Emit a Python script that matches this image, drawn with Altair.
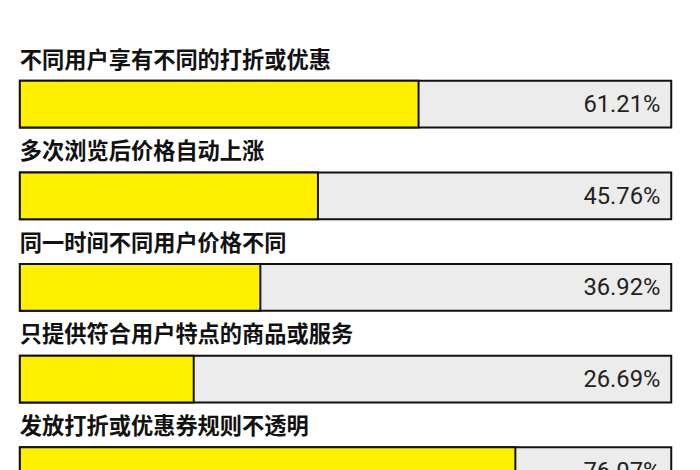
import altair as alt
import pandas as pd

labels = [
    "不同用户享有不同的打折或优惠",
    "多次浏览后价格自动上涨",
    "同一时间不同用户价格不同",
    "只提供符合用户特点的商品或服务",
    "发放打折或优惠券规则不透明",
]
values = [61.21, 45.76, 36.92, 26.69, 76.07]

df = pd.DataFrame({"label": labels, "value": values})

yenc = alt.Y(
    "label:N", sort=None, axis=None,
    scale=alt.Scale(range=[71, 489], paddingInner=0.49, paddingOuter=0),
)
xscale = alt.Scale(domain=[0, 100], range=[12, 671])

base = alt.Chart(df)

bg = base.mark_bar(color="#ececec", stroke="#111111", strokeWidth=2).encode(
    y=yenc,
    x=alt.X(datum=0, scale=xscale, axis=None),
    x2=alt.X2(datum=100),
)

fill = base.mark_bar(color="#fff000", stroke="#111111", strokeWidth=2).encode(
    y=yenc,
    x=alt.X("value:Q", scale=xscale, axis=None),
    x2=alt.X2(datum=0),
)

vals = base.transform_calculate(
    txt="format(datum.value, '.2f') + '%'"
).mark_text(
    align="right", baseline="middle", dx=-11, dy=1, font="Roboto",
    fontSize=24, fontWeight="normal", color="#222222",
).encode(
    y=yenc,
    x=alt.X(datum=100, scale=xscale, axis=None),
    text="txt:N",
)

labs = base.mark_text(
    align="left", baseline="middle", dy=-44, font="Noto Sans CJK SC",
    fontSize=22.5, fontWeight="bold", color="#111111",
).encode(
    y=yenc,
    x=alt.X(datum=0, scale=xscale, axis=None),
    text="label:N",
)

chart = alt.layer(bg, fill, vals, labs).properties(
    width=692, height=462, autosize=alt.AutoSizeParams(type="none"),
    padding=0, background="white",
).configure_view(stroke=None)

chart.save("out.html", embed_options={"renderer": "svg", "actions": False})
